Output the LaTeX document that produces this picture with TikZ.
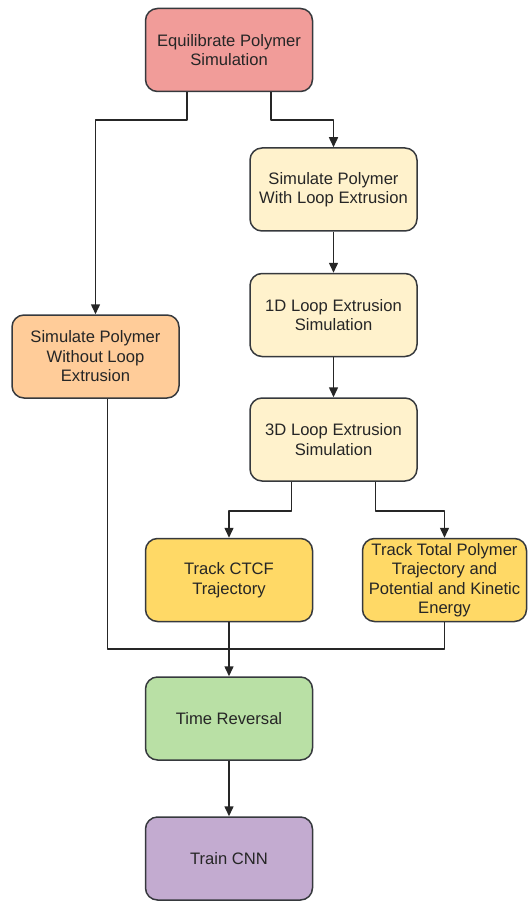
\documentclass[tikz,border=0pt]{standalone}
\usepackage{fontspec}
\setmainfont{Liberation Sans}
\usetikzlibrary{arrows.meta}
\definecolor{eqred}{HTML}{F19C99}
\definecolor{paleyellow}{HTML}{FFF2CC}
\definecolor{paleorange}{HTML}{FFCC99}
\definecolor{trackyellow}{HTML}{FFD966}
\definecolor{revgreen}{HTML}{B9E0A5}
\definecolor{cnnpurple}{HTML}{C3ABD0}
\definecolor{edge}{HTML}{36393D}
\tikzset{
  box/.style={draw=edge, line width=1.5pt, rounded corners=12pt, minimum width=167pt,
    minimum height=83pt, align=center, text=black!85,
    font=\fontsize{16.6}{19.5}\selectfont},
  link/.style={draw=black!85, line width=1.5pt},
  arr/.style={link, -{Triangle[length=10pt,width=9pt]}}
}
\begin{document}
\begin{tikzpicture}[x=1pt,y=-1pt,line join=round]
  \useasboundingbox (0,0) rectangle (527,901);
  % boxes
  \node[box, fill=eqred] (eq) at (229,50) {Equilibrate Polymer\\Simulation};
  \node[box, fill=paleyellow] (withle) at (333.5,189.5) {Simulate Polymer\\With Loop Extrusion};
  \node[box, fill=paleyellow] (oned) at (333.5,315) {1D Loop Extrusion\\Simulation};
  \node[box, fill=paleyellow] (threed) at (333.5,439.5) {3D Loop Extrusion\\Simulation};
  \node[box, fill=paleorange] (without) at (95.5,356.5) {Simulate Polymer\\Without Loop\\Extrusion};
  \node[box, fill=trackyellow] (ctcf) at (229,580) {Track CTCF\\Trajectory};
  \node[box, fill=trackyellow, minimum width=164pt] (total) at (444.5,580) {Track Total Polymer\\Trajectory and\\Potential and Kinetic\\Energy};
  \node[box, fill=revgreen] (rev) at (229,718.5) {Time Reversal};
  \node[box, fill=cnnpurple] (cnn) at (229,858.5) {Train CNN};
  % connectors
  \draw[arr] ([xshift=-42pt]eq.south) -- ++(0,28) -| (without.north);
  \draw[arr] ([xshift=42pt]eq.south) -- ++(0,28) -| (withle.north);
  \draw[arr] (withle) -- (oned);
  \draw[arr] (oned) -- (threed);
  \draw[arr] ([xshift=-42pt]threed.south) -- ++(0,29) -| (ctcf.north);
  \draw[arr] ([xshift=42pt]threed.south) -- ++(0,29) -| (total.north);
  \draw[link] ([xshift=12pt]without.south) -- ++(0,250) -| (total.south);
  \draw[arr] (ctcf) -- (rev);
  \draw[arr] (rev) -- (cnn);
\end{tikzpicture}
\end{document}
